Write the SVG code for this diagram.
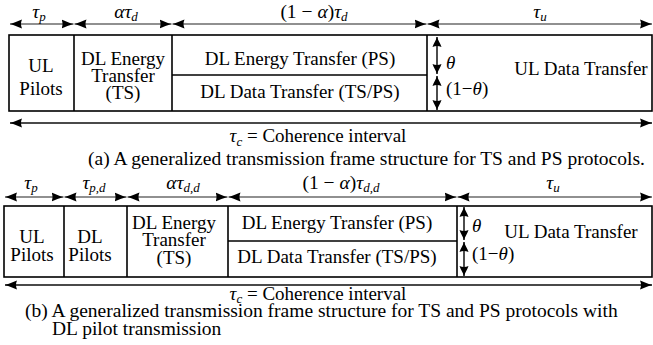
<svg xmlns="http://www.w3.org/2000/svg" width="653" height="345" viewBox="0 0 653 345" font-family="Liberation Serif, Times New Roman, serif">
<style>
text{font-family:"Liberation Serif","Times New Roman",serif;font-size:19px;fill:#000;text-anchor:middle}
.m{font-style:italic}
.sub{font-size:13px;font-style:italic}
.lbl{font-size:19.5px}
.cap{font-size:19.5px;text-anchor:start}
.box{fill:#fff;stroke:#000;stroke-width:1.6}
.div{stroke:#000;stroke-width:1.6;fill:none}
.arr{stroke:#222;stroke-width:1.2;fill:none;marker-start:url(#ah);marker-end:url(#ah)}
.arrc{stroke:#4a4a4a;stroke-width:1.8;fill:none;marker-start:url(#ah);marker-end:url(#ah)}
.varr{stroke:#000;stroke-width:1.4;fill:none;marker-start:url(#vh);marker-end:url(#vh)}
</style>
<defs>
<marker id="ah" markerUnits="userSpaceOnUse" markerWidth="14" markerHeight="10" refX="12" refY="5" orient="auto-start-reverse">
<path d="M12,5 C8,4 3,1.5 0,0.5 Q2,5 0,9.5 C3,8.5 8,6 12,5 Z" fill="#000"/>
</marker>
<marker id="vh" markerUnits="userSpaceOnUse" markerWidth="12" markerHeight="10" refX="10" refY="5" orient="auto-start-reverse">
<path d="M10,5 C7,4 3,1.5 0,0.5 Q2,5 0,9.5 C3,8.5 7,6 10,5 Z" fill="#000"/>
</marker>
</defs>

<!-- Frame (a) -->
<g id="frame-a">
<rect class="box" x="9" y="35" width="643" height="76"/>
<line class="div" x1="74" y1="35" x2="74" y2="111"/>
<line class="div" x1="172" y1="35" x2="172" y2="111"/>
<line class="div" x1="427" y1="35" x2="427" y2="111"/>
<line class="div" x1="172" y1="75" x2="427" y2="75"/>
</g>
<g id="a-ul-pilots"><text x="41" y="72">UL</text><text x="41" y="95">Pilots</text></g>
<g id="a-dl-energy-ts"><text x="123" y="65">DL Energy</text><text x="123" y="82">Transfer</text><text x="123" y="99">(TS)</text></g>
<g id="a-dl-energy-ps"><text x="300" y="65">DL Energy Transfer (PS)</text></g>
<g id="a-dl-data"><text x="300" y="98">DL Data Transfer (TS/PS)</text></g>
<g id="a-ul-data"><text x="581" y="75">UL Data Transfer</text></g>
<g id="a-theta">
<text x="446" y="69" style="text-anchor:start" class="m">θ</text>
<text x="446" y="95" style="text-anchor:start">(1−<tspan class="m">θ</tspan>)</text>
</g>
<g id="a-labels">
<text class="lbl" x="39" y="18"><tspan class="m">τ</tspan><tspan class="sub" dy="3">p</tspan></text>
<text class="lbl" x="126" y="18"><tspan class="m">ατ</tspan><tspan class="sub" dy="3">d</tspan></text>
<text class="lbl" x="314" y="18">(1 − <tspan class="m">α</tspan>)<tspan class="m">τ</tspan><tspan class="sub" dy="3">d</tspan></text>
<text class="lbl" x="540" y="18"><tspan class="m">τ</tspan><tspan class="sub" dy="3">u</tspan></text>
<text x="318" y="142"><tspan class="m">τ</tspan><tspan class="sub" dy="4">c</tspan><tspan dy="-4"> = Coherence interval</tspan></text>
<text class="cap" x="88" y="165">(a) A generalized transmission frame structure for TS and PS protocols.</text>
</g>

<!-- Frame (b) -->
<g id="frame-b">
<rect class="box" x="4" y="206" width="648" height="71"/>
<line class="div" x1="64" y1="206" x2="64" y2="277"/>
<line class="div" x1="127" y1="206" x2="127" y2="277"/>
<line class="div" x1="228" y1="206" x2="228" y2="277"/>
<line class="div" x1="457" y1="206" x2="457" y2="277"/>
<line class="div" x1="228" y1="241" x2="457" y2="241"/>
</g>
<g id="b-ul-pilots"><text x="32" y="243">UL</text><text x="32" y="261">Pilots</text></g>
<g id="b-dl-pilots"><text x="90" y="243">DL</text><text x="90" y="261">Pilots</text></g>
<g id="b-dl-energy-ts"><text x="174" y="229">DL Energy</text><text x="174" y="246">Transfer</text><text x="174" y="264">(TS)</text></g>
<g id="b-dl-energy-ps"><text x="337" y="229">DL Energy Transfer (PS)</text></g>
<g id="b-dl-data"><text x="337" y="263">DL Data Transfer (TS/PS)</text></g>
<g id="b-ul-data"><text x="571" y="238">UL Data Transfer</text></g>
<g id="b-theta">
<text x="472" y="232" style="text-anchor:start" class="m">θ</text>
<text x="472" y="260" style="text-anchor:start">(1−<tspan class="m">θ</tspan>)</text>
</g>
<g id="b-labels">
<text class="lbl" x="31" y="189"><tspan class="m">τ</tspan><tspan class="sub" dy="3">p</tspan></text>
<text class="lbl" x="94" y="189"><tspan class="m">τ</tspan><tspan class="sub" dy="3">p,d</tspan></text>
<text class="lbl" x="183" y="189"><tspan class="m">ατ</tspan><tspan class="sub" dy="3">d,d</tspan></text>
<text class="lbl" x="341" y="189">(1 − <tspan class="m">α</tspan>)<tspan class="m">τ</tspan><tspan class="sub" dy="3">d,d</tspan></text>
<text class="lbl" x="553" y="189"><tspan class="m">τ</tspan><tspan class="sub" dy="3">u</tspan></text>
<text x="318" y="300"><tspan class="m">τ</tspan><tspan class="sub" dy="3">c</tspan><tspan dy="-3"> = Coherence interval</tspan></text>
<text class="cap" x="25" y="317">(b) A generalized transmission frame structure for TS and PS protocols with</text>
<text class="cap" x="52" y="335">DL pilot transmission</text>
</g>

<g id="connectors">
<line class="arr" x1="10" y1="24" x2="73.5" y2="24"/>
<line class="arr" x1="74.5" y1="24" x2="171.5" y2="24"/>
<line class="arr" x1="172.5" y1="24" x2="426.5" y2="24"/>
<line class="arr" x1="427.5" y1="24" x2="652" y2="24"/>
<line class="arrc" x1="10" y1="123" x2="652" y2="123"/>
<line class="varr" x1="437" y1="37" x2="437" y2="74"/>
<line class="varr" x1="437" y1="76" x2="437" y2="110"/>
<line class="arr" x1="5" y1="197" x2="63.5" y2="197"/>
<line class="arr" x1="64.5" y1="197" x2="126.5" y2="197"/>
<line class="arr" x1="127.5" y1="197" x2="227.5" y2="197"/>
<line class="arr" x1="228.5" y1="197" x2="456.5" y2="197"/>
<line class="arr" x1="457.5" y1="197" x2="652" y2="197"/>
<line class="arrc" x1="5" y1="285" x2="652" y2="285"/>
<line class="varr" x1="464" y1="207" x2="464" y2="240"/>
<line class="varr" x1="464" y1="242" x2="464" y2="276"/>
</g>
</svg>
